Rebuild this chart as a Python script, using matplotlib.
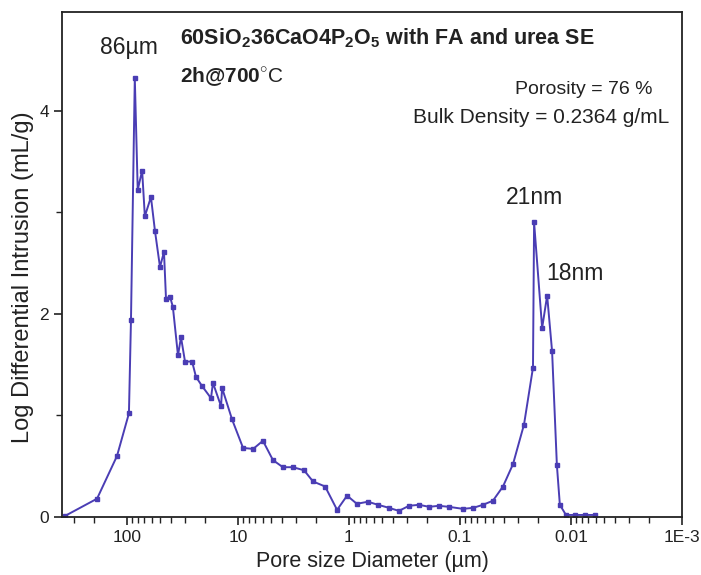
import matplotlib
matplotlib.use("Agg")
import matplotlib.pyplot as plt
from matplotlib.ticker import FixedLocator, FixedFormatter, LogLocator, NullFormatter, MultipleLocator

plt.rcParams['font.family'] = ['Liberation Sans', 'DejaVu Sans']
plt.rcParams['mathtext.fontset'] = 'custom'
plt.rcParams['mathtext.rm'] = 'Liberation Sans'
plt.rcParams['mathtext.bf'] = 'Liberation Sans:bold'

# pore diameter (um) and log differential intrusion (mL/g)
diameter = [362, 186, 123, 96, 92, 85, 80, 73, 69, 60.8, 56, 50.4, 46.4, 44.5,
            41, 38.6, 34.7, 32.6, 30, 25.9, 23.9, 21.1, 17.5, 16.8, 14.2, 13.9,
            11.3, 9.0, 7.3, 5.96, 4.84, 3.94, 3.2, 2.54, 2.11, 1.64, 1.28, 1.04,
            0.85, 0.675, 0.548, 0.436, 0.355, 0.288, 0.234, 0.190, 0.155, 0.126,
            0.094, 0.076, 0.062, 0.0505, 0.041, 0.0333, 0.0265, 0.022, 0.0215,
            0.0182, 0.0164, 0.0148, 0.0134, 0.0126, 0.0111, 0.0092, 0.0075, 0.0061]
intrusion = [0.01, 0.18, 0.60, 1.02, 1.94, 4.32, 3.22, 3.41, 2.96, 3.15, 2.82,
             2.46, 2.61, 2.15, 2.17, 2.07, 1.59, 1.77, 1.53, 1.53, 1.38, 1.29,
             1.17, 1.32, 1.09, 1.27, 0.96, 0.68, 0.67, 0.75, 0.56, 0.49, 0.49,
             0.46, 0.35, 0.30, 0.07, 0.21, 0.13, 0.15, 0.12, 0.09, 0.06, 0.11,
             0.12, 0.10, 0.11, 0.10, 0.08, 0.09, 0.12, 0.16, 0.30, 0.52, 0.91,
             1.47, 2.90, 1.86, 2.18, 1.63, 0.51, 0.12, 0.02, 0.02, 0.02, 0.02]

x_ticks = [100, 10, 1, 0.1, 0.01, 0.001]
x_tick_labels = ['100', '10', '1', '0.1', '0.01', '1E-3']
y_ticks = [0, 2, 4]

line_color = '#4a3db4'
ink = '#222222'

fig = plt.figure(figsize=(7.01, 5.75), dpi=100)
ax = fig.add_axes([0.0884, 0.1009, 0.8845, 0.878])

ax.plot(diameter, intrusion, color=line_color, linewidth=1.4,
        marker='s', markersize=3.2, markerfacecolor=line_color,
        markeredgecolor=line_color)

ax.set_xscale('log')
ax.set_xlim(385, 0.001)
ax.set_ylim(0, 4.97)

ax.xaxis.set_major_locator(FixedLocator(x_ticks))
ax.xaxis.set_major_formatter(FixedFormatter(x_tick_labels))
ax.xaxis.set_minor_locator(LogLocator(base=10, subs=range(2, 10)))
ax.xaxis.set_minor_formatter(NullFormatter())
ax.yaxis.set_major_locator(FixedLocator(y_ticks))
ax.yaxis.set_minor_locator(MultipleLocator(1))

ax.tick_params(axis='both', which='major', direction='out', length=6,
               width=1.2, labelsize=12.5, color=ink, labelcolor=ink)
ax.tick_params(axis='both', which='minor', direction='out', length=4,
               width=1.0, color=ink)
for s in ax.spines.values():
    s.set_linewidth(1.3)
    s.set_color(ink)

ax.set_xlabel('Pore size Diameter (µm)', fontsize=15.5, color=ink, labelpad=4)
ax.set_ylabel('Log Differential Intrusion (mL/g)', fontsize=17, color=ink)
ax.yaxis.set_label_coords(-0.045, 0.475)

# annotations
ax.text(0.19, 0.948, r'60SiO$_\mathbf{2}$36CaO4P$_\mathbf{2}$O$_\mathbf{5}$ with FA and urea SE',
        transform=ax.transAxes, fontsize=15.5, fontweight='bold', color=ink,
        va='center', ha='left')
ax.text(0.19, 0.87, r'2h@700$^{\circ}\mathrm{C}$', transform=ax.transAxes,
        fontsize=15, fontweight='bold', color=ink, va='center', ha='left')
ax.text(0.953, 0.847, 'Porosity = 76 %', transform=ax.transAxes, fontsize=14,
        color=ink, va='center', ha='right')
ax.text(0.98, 0.792, 'Bulk Density = 0.2364 g/mL', transform=ax.transAxes,
        fontsize=15, color=ink, va='center', ha='right')
ax.text(96, 4.62, '86µm', fontsize=16.5, color=ink, ha='center', va='center')
ax.text(0.0215, 3.15, '21nm', fontsize=16.5, color=ink, ha='center', va='center')
ax.text(0.0168, 2.40, '18nm', fontsize=16.5, color=ink, ha='left', va='center')

fig.savefig('out.png', dpi=100, facecolor='white')
